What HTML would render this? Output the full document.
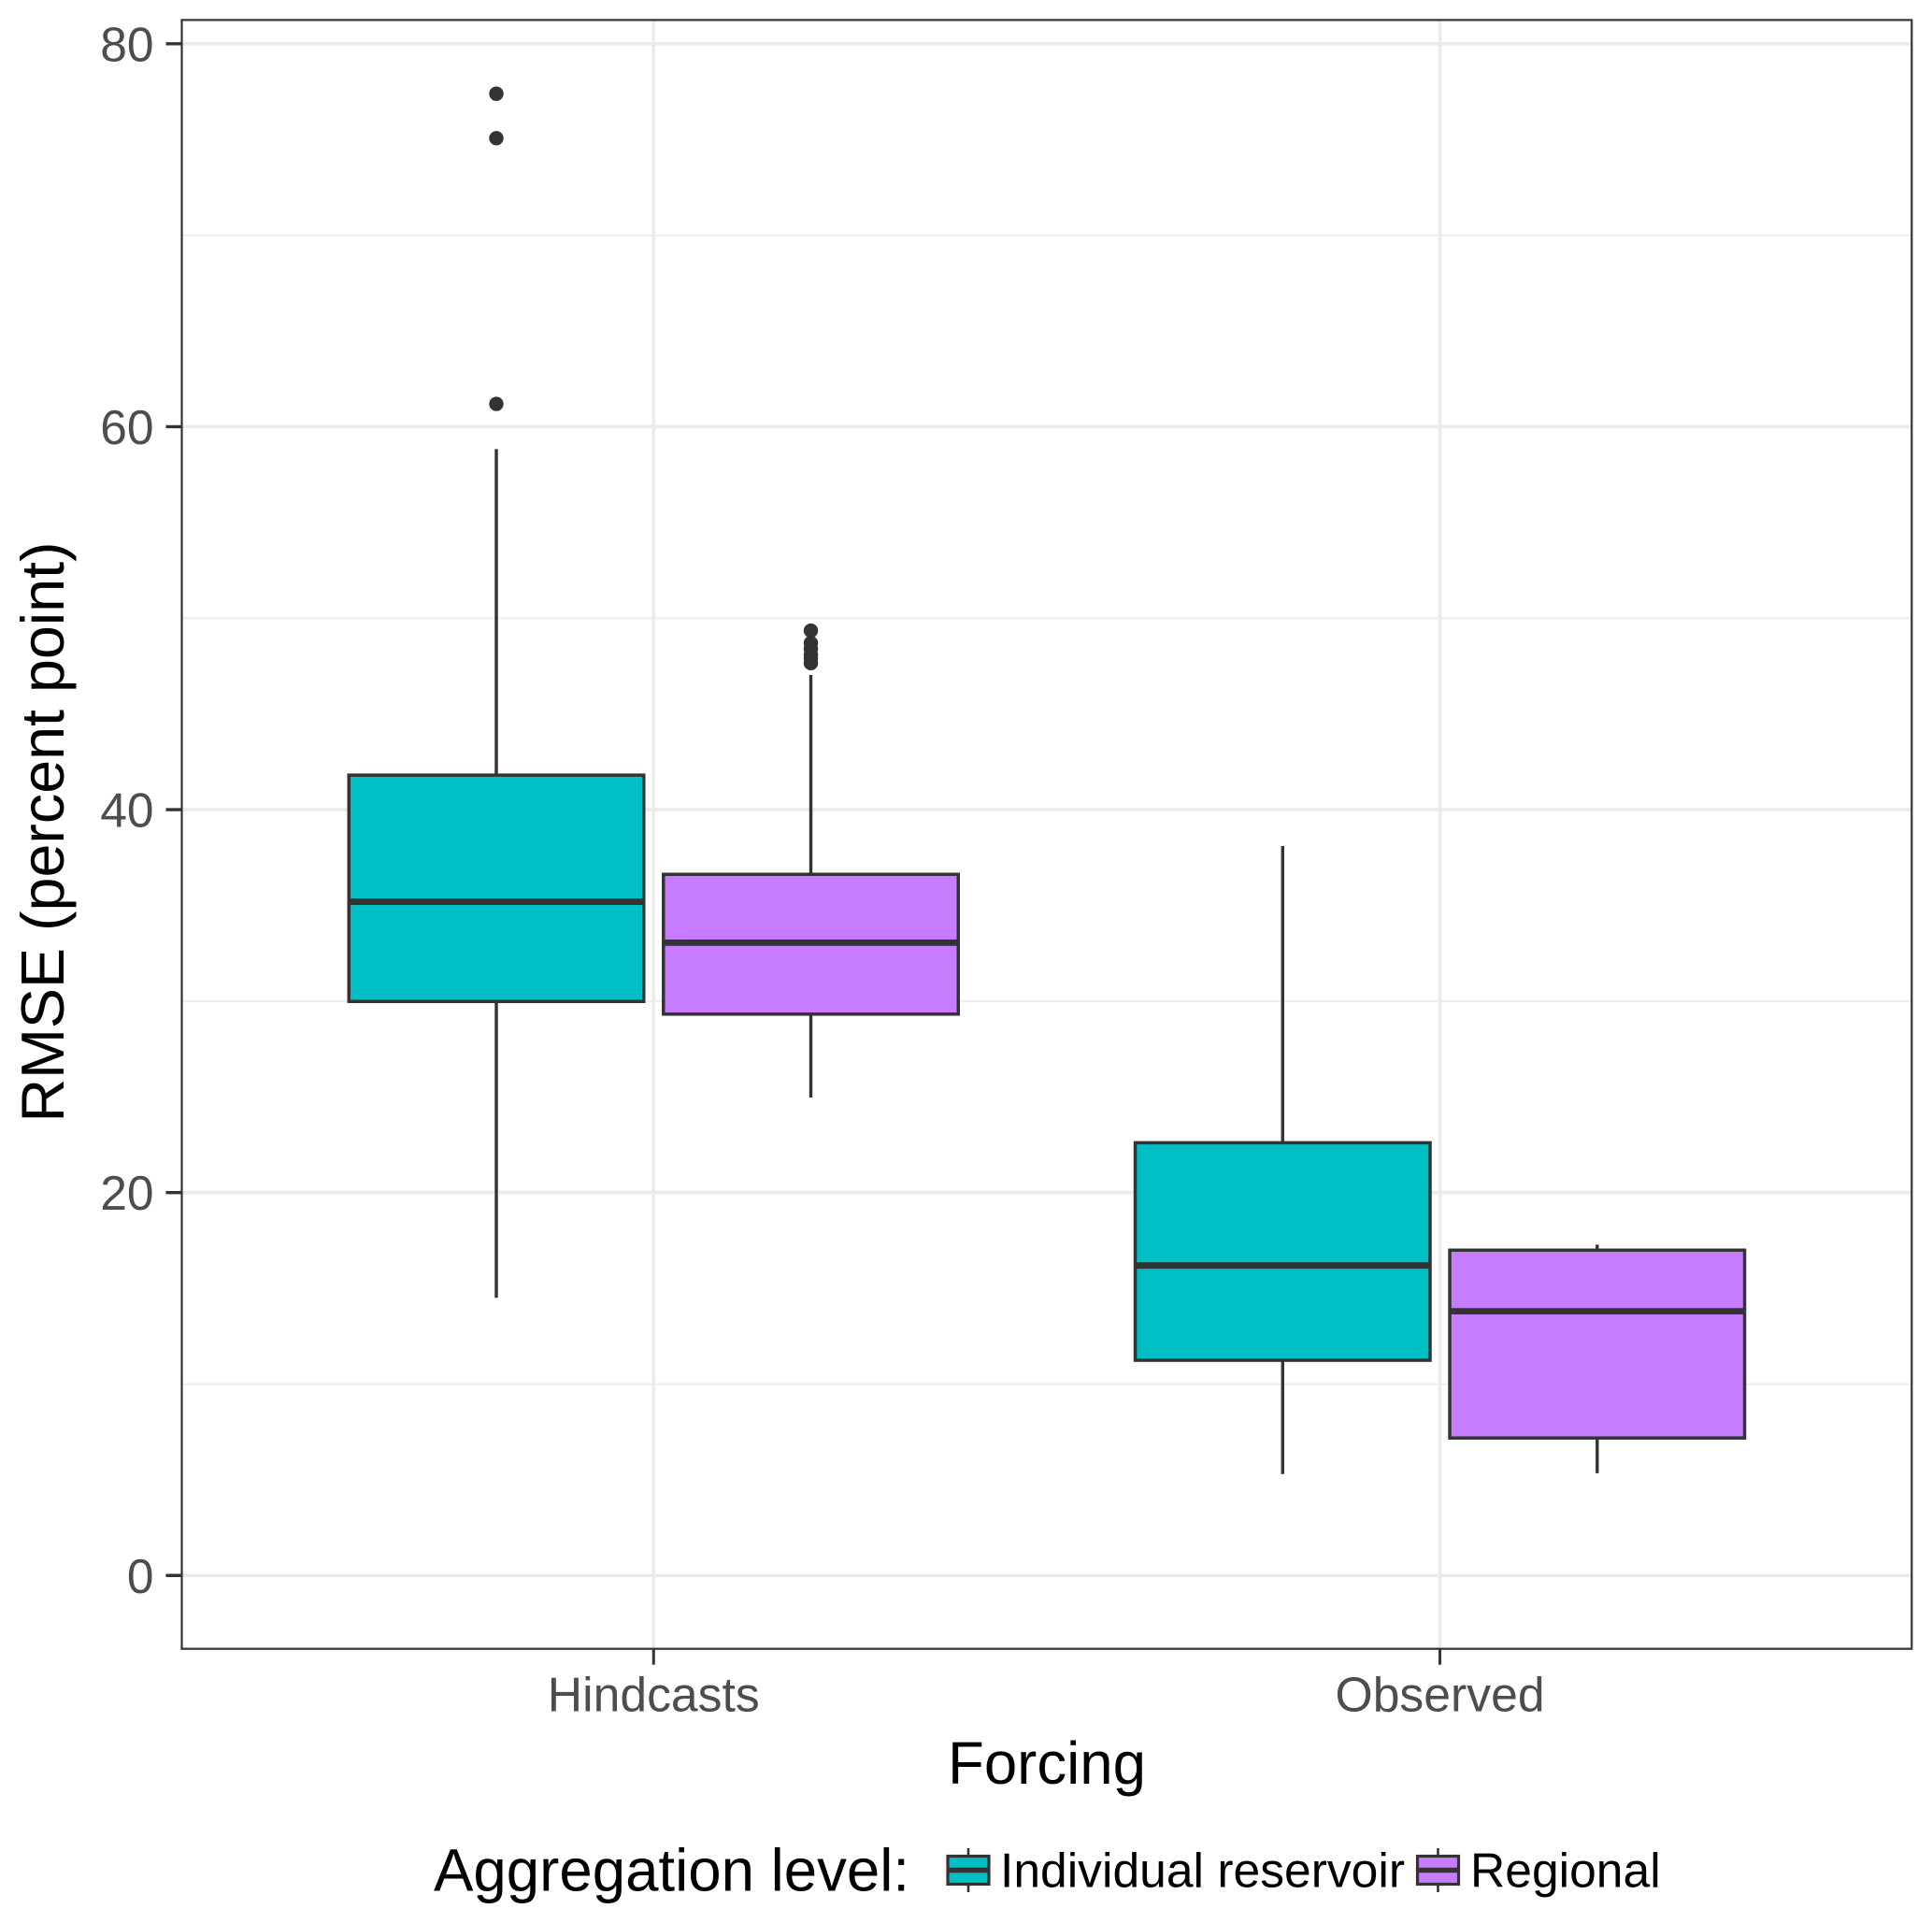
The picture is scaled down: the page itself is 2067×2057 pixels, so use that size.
<!DOCTYPE html>
<html lang="en">
<head>
<meta charset="utf-8">
<title>RMSE by forcing and aggregation level</title>
<style>
html,body{margin:0;padding:0;background:#fff;}
svg{display:block;font-family:"Liberation Sans",Arial,sans-serif;}
</style>
</head>
<body>
<svg id="chart" xmlns="http://www.w3.org/2000/svg" width="2067" height="2057" viewBox="0 0 2067 2057">
  <rect x="0" y="0" width="2067" height="2057" fill="#ffffff"/>
  <g id="grid"></g>
  <g id="marks"></g>
  <rect x="194.5" y="21.4" width="1850.8" height="1742.3" fill="none" stroke="#333333" stroke-width="2.2"/>
  <g id="axes"></g>
  <text transform="translate(68,890) rotate(-90)" text-anchor="middle" font-size="64.6" fill="#000000">RMSE (percent point)</text>
  <text x="1120" y="1908" text-anchor="middle" font-size="63.6" fill="#000000">Forcing</text>
  <g id="legend">
    <text x="464" y="2022.7" font-size="63.6" fill="#000000">Aggregation level:</text>
  </g>
</svg>
<script>
const categories = ['Hindcasts', 'Observed'];
const groups = ['Individual reservoir', 'Regional'];
const yTicks = [0, 20, 40, 60, 80];
const yTickLabels = ['0', '20', '40', '60', '80'];
const yMinorTicks = [10, 30, 50, 70];

const individualWhiskerLow = [14.5, 5.3];
const individualQ1 = [29.98, 11.24];
const individualMedian = [35.19, 16.19];
const individualQ3 = [41.8, 22.6];
const individualWhiskerHigh = [58.83, 38.1];
const individualOutliers = [[61.19, 75.07, 77.39], []];

const regionalWhiskerLow = [24.96, 5.34];
const regionalQ1 = [29.32, 7.18];
const regionalMedian = [33.05, 13.8];
const regionalQ3 = [36.62, 16.99];
const regionalWhiskerHigh = [47.03, 17.28];
const regionalOutliers = [[47.65, 47.9, 48.1, 48.4, 48.7, 49.35], []];

const groupColors = ['#00BFC4', '#C77CFF'];

const SVG_NS = 'http://www.w3.org/2000/svg';
const PANEL = { left: 194.5, right: 2045.3, top: 21.4, bottom: 1763.7 };
const X_DOMAIN = [0.4, 2.6];
const Y_DOMAIN = [-3.83, 81.24];
const DODGE = 0.2;
const BOX_WIDTH = 0.375;
const INK = '#333333';

function xScale(v) {
  return PANEL.left + (v - X_DOMAIN[0]) / (X_DOMAIN[1] - X_DOMAIN[0]) * (PANEL.right - PANEL.left);
}
function yScale(v) {
  return PANEL.bottom - (v - Y_DOMAIN[0]) / (Y_DOMAIN[1] - Y_DOMAIN[0]) * (PANEL.bottom - PANEL.top);
}
function make(tag, attrs, parent) {
  const el = document.createElementNS(SVG_NS, tag);
  for (const k in attrs) el.setAttribute(k, attrs[k]);
  parent.appendChild(el);
  return el;
}

const gridLayer = document.getElementById('grid');
const marksLayer = document.getElementById('marks');
const axesLayer = document.getElementById('axes');
const legendLayer = document.getElementById('legend');

yMinorTicks.forEach(function (t) {
  const l = make('line', { x1: PANEL.left, x2: PANEL.right, y1: yScale(t), y2: yScale(t), stroke: '#ededed', 'stroke-width': 2 }, gridLayer);
  
  
});
yTicks.forEach(function (t, i) {
  const l = make('line', { x1: PANEL.left, x2: PANEL.right, y1: yScale(t), y2: yScale(t), stroke: '#ebebeb', 'stroke-width': 3.6 }, gridLayer);
  
  

  const tick = make('line', { x1: 177.5, x2: PANEL.left, y1: yScale(t), y2: yScale(t), stroke: INK, 'stroke-width': 3.4 }, axesLayer);
  
  

  const label = make('text', { x: 164.5, y: yScale(t) + 18.5, 'text-anchor': 'end', 'font-size': 51.5, fill: '#4d4d4d' }, axesLayer);
  label.textContent = yTickLabels[i];
  
  
});
categories.forEach(function (c, i) {
  const cx = xScale(i + 1);
  const l = make('line', { x1: cx, x2: cx, y1: PANEL.top, y2: PANEL.bottom, stroke: '#ebebeb', 'stroke-width': 3.6 }, gridLayer);
  
  

  const tick = make('line', { x1: cx, x2: cx, y1: PANEL.bottom, y2: 1780.7, stroke: INK, 'stroke-width': 3 }, axesLayer);
  
  

  const label = make('text', { x: cx, y: 1830.7, 'text-anchor': 'middle', 'font-size': 51.7, fill: '#4d4d4d' }, axesLayer);
  label.textContent = c;
  
  
});

function drawBox(catIndex, groupIndex, low, q1, med, q3, high, outliers) {
  const offset = groupIndex === 0 ? -DODGE : DODGE;
  const cx = xScale(catIndex + 1 + offset);
  const left = xScale(catIndex + 1 + offset - BOX_WIDTH / 2);
  const right = xScale(catIndex + 1 + offset + BOX_WIDTH / 2);
  const g = make('g', {}, marksLayer);
  
  

  outliers.forEach(function (v) {
    const p = make('circle', { cx: cx, cy: yScale(v), r: 7.7, fill: INK }, g);
    
    
  });
  const up = make('line', { x1: cx, x2: cx, y1: yScale(high), y2: yScale(q3), stroke: INK, 'stroke-width': 3.4 }, g);
  
  
  const down = make('line', { x1: cx, x2: cx, y1: yScale(q1), y2: yScale(low), stroke: INK, 'stroke-width': 3.4 }, g);
  
  
  const rect = make('rect', { x: left, y: yScale(q3), width: right - left, height: yScale(q1) - yScale(q3), fill: groupColors[groupIndex], stroke: INK, 'stroke-width': 3.5 }, g);
  
  
  const m = make('line', { x1: left, x2: right, y1: yScale(med), y2: yScale(med), stroke: INK, 'stroke-width': 6.8 }, g);
  
  
}

categories.forEach(function (c, i) {
  drawBox(i, 0, individualWhiskerLow[i], individualQ1[i], individualMedian[i], individualQ3[i], individualWhiskerHigh[i], individualOutliers[i]);
  drawBox(i, 1, regionalWhiskerLow[i], regionalQ1[i], regionalMedian[i], regionalQ3[i], regionalWhiskerHigh[i], regionalOutliers[i]);
});

const legendKeyLeft = [1014, 1516.5];
const legendLabelLeft = [1070, 1573];
groups.forEach(function (name, i) {
  const entry = make('g', {}, legendLayer);
  
  
  const kx = legendKeyLeft[i];
  const whisk = make('line', { x1: kx + 22, x2: kx + 22, y1: 1977, y2: 2024, stroke: INK, 'stroke-width': 2.6 }, entry);
  
  
  const box = make('rect', { x: kx, y: 1985.5, width: 44, height: 30, fill: groupColors[i], stroke: INK, 'stroke-width': 3.2 }, entry);
  
  
  const med = make('line', { x1: kx, x2: kx + 44, y1: 2000.5, y2: 2000.5, stroke: INK, 'stroke-width': 5.5 }, entry);
  
  
  const label = make('text', { x: legendLabelLeft[i], y: 2018.7, 'font-size': 51.6, fill: '#000000' }, entry);
  label.textContent = name;
  
  
});
</script>
</body>
</html>
